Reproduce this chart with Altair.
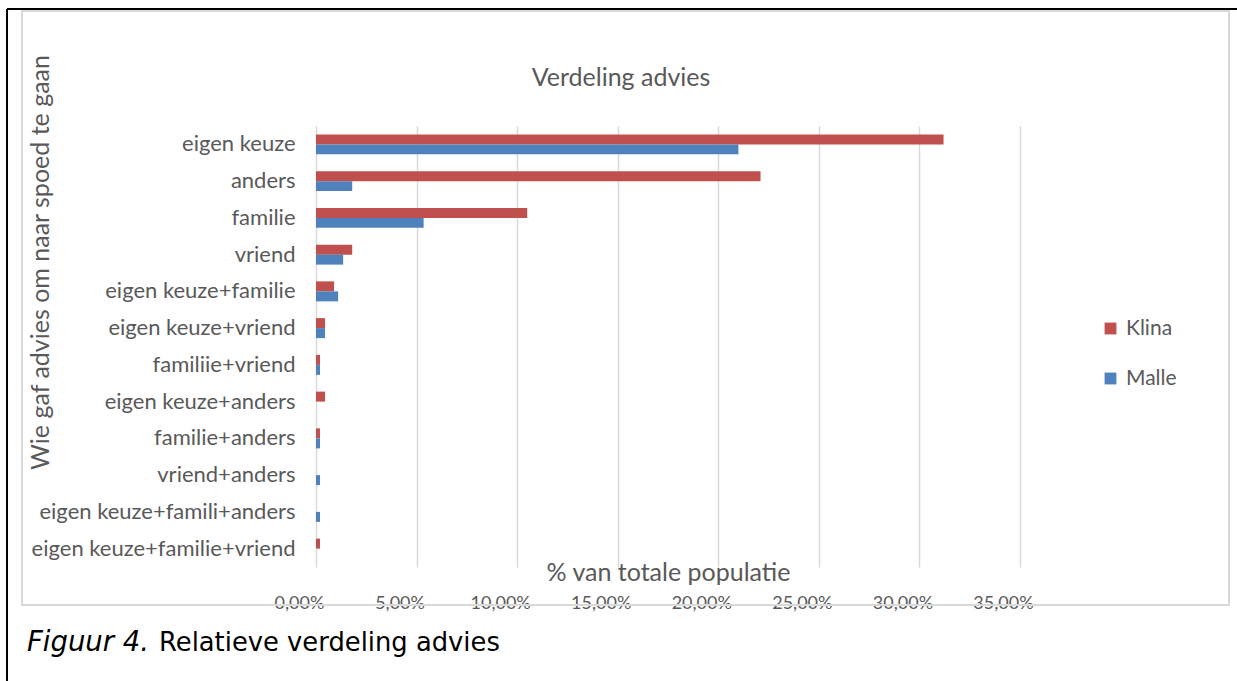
import altair as alt
import pandas as pd

categories = ["eigen keuze", "anders", "familie", "vriend", "eigen keuze+familie",
              "eigen keuze+vriend", "familiie+vriend", "eigen keuze+anders",
              "familie+anders", "vriend+anders", "eigen keuze+famili+anders",
              "eigen keuze+familie+vriend"]
klina = [31.2, 22.1, 10.5, 1.8, 0.9, 0.45, 0.2, 0.45, 0.2, 0.0, 0.0, 0.2]
malle = [21.0, 1.8, 5.35, 1.35, 1.1, 0.45, 0.2, 0.0, 0.2, 0.2, 0.2, 0.0]
series = ["Klina", "Malle"]
colors = ["#C0504D", "#4F81BD"]
x_ticks = [0, 5, 10, 15, 20, 25, 30, 35]

rows = []
for c, k, m in zip(categories, klina, malle):
    rows.append({"cat": c, "serie": "Klina", "val": k})
    rows.append({"cat": c, "serie": "Malle", "val": m})
df = pd.DataFrame(rows)

FONT = "Lato"
GRAY = "#595959"
X0, Y0 = 316, 126  # plot origin in page pixels

bars = alt.Chart(df).mark_bar(stroke=None).encode(
    x=alt.X("val:Q", scale=alt.Scale(domain=[0, 35], nice=False),
            axis=alt.Axis(values=x_ticks, title="% van totale populatie",
                          labelExpr="replace(format(datum.value, '.2f'), '.', ',') + '%'",
                          labelFont=FONT, labelFontSize=18, labelColor=GRAY,
                          labelPadding=27, ticks=False, domain=False, labelOffset=-17,
                          labelFlush=False, labelOverlap=False, labelBound=False,
                          grid=True, gridColor="#d9d9d9", gridWidth=1.5,
                          titleFont=FONT, titleFontSize=25, titleColor=GRAY,
                          titleFontWeight="normal", titleY=5, titleBaseline="middle")),
    y=alt.Y("cat:N", sort=categories,
            scale=alt.Scale(paddingInner=0.456, paddingOuter=0.228),
            axis=alt.Axis(title="Wie gaf advies om naar spoed te gaan",
                          labelFont=FONT, labelFontSize=22, labelColor=GRAY,
                          labelPadding=21, ticks=False, domain=False, labelLimit=0,
                          titleFont=FONT, titleFontSize=25, titleColor=GRAY,
                          titleFontWeight="normal", titleX=40 - X0, titleY=262 - Y0,
                          titleAlign="center", titleBaseline="middle", titleAngle=-90)),
    yOffset=alt.YOffset("serie:N", scale=alt.Scale(domain=series)),
    color=alt.Color("serie:N", scale=alt.Scale(domain=series, range=colors),
                    legend=alt.Legend(title=None, orient="none",
                                      legendX=1100 - X0, legendY=318 - Y0,
                                      symbolType="square", symbolSize=140,
                                      symbolStrokeWidth=0,
                                      labelFont=FONT, labelFontSize=21, labelColor=GRAY,
                                      rowPadding=28, labelOffset=5)),
)

title_df = pd.DataFrame({"t": ["Verdeling advies"]})
title = alt.Chart(title_df).mark_text(font=FONT, fontSize=25, color=GRAY,
                                      align="center", baseline="middle").encode(
    text="t:N", x=alt.value(621 - X0), y=alt.value(78 - Y0))

cap1_df = pd.DataFrame({"t": ["Figuur 4."]})
cap1 = alt.Chart(cap1_df).mark_text(font="DejaVu Sans", fontSize=27.5, color="black",
                                    fontStyle="italic", align="left", baseline="middle").encode(
    text="t:N", x=alt.value(27 - X0), y=alt.value(643 - Y0))
cap2_df = pd.DataFrame({"t": ["Relatieve verdeling advies"]})
cap2 = alt.Chart(cap2_df).mark_text(font="DejaVu Sans", fontSize=25.8, color="black",
                                    align="left", baseline="middle").encode(
    text="t:N", x=alt.value(159 - X0), y=alt.value(643 - Y0))

frame_df = pd.DataFrame({"f": [1]})
chart_border = alt.Chart(frame_df).mark_rect(fill=None, stroke="#d9d9d9", strokeWidth=2).encode(
    x=alt.value(22 - X0), x2=alt.value(1229 - X0), y=alt.value(11 - Y0), y2=alt.value(605 - Y0))
black_left = alt.Chart(frame_df).mark_rule(color="black", strokeWidth=2).encode(
    x=alt.value(7 - X0), y=alt.value(9 - Y0), y2=alt.value(681 - Y0))
black_top = alt.Chart(frame_df).mark_rule(color="black", strokeWidth=2).encode(
    x=alt.value(7 - X0), x2=alt.value(1237 - X0), y=alt.value(9 - Y0))

chart = alt.layer(chart_border, black_left, black_top, bars, title, cap1, cap2).properties(
    width=704, height=441,
    autosize=alt.AutoSizeParams(type="none"),
    padding={"left": X0, "top": Y0, "right": 1237 - X0 - 704, "bottom": 681 - Y0 - 441},
    background="white",
).configure_view(stroke=None)

chart.save("out.html", embed_options={"renderer": "svg", "actions": False})
